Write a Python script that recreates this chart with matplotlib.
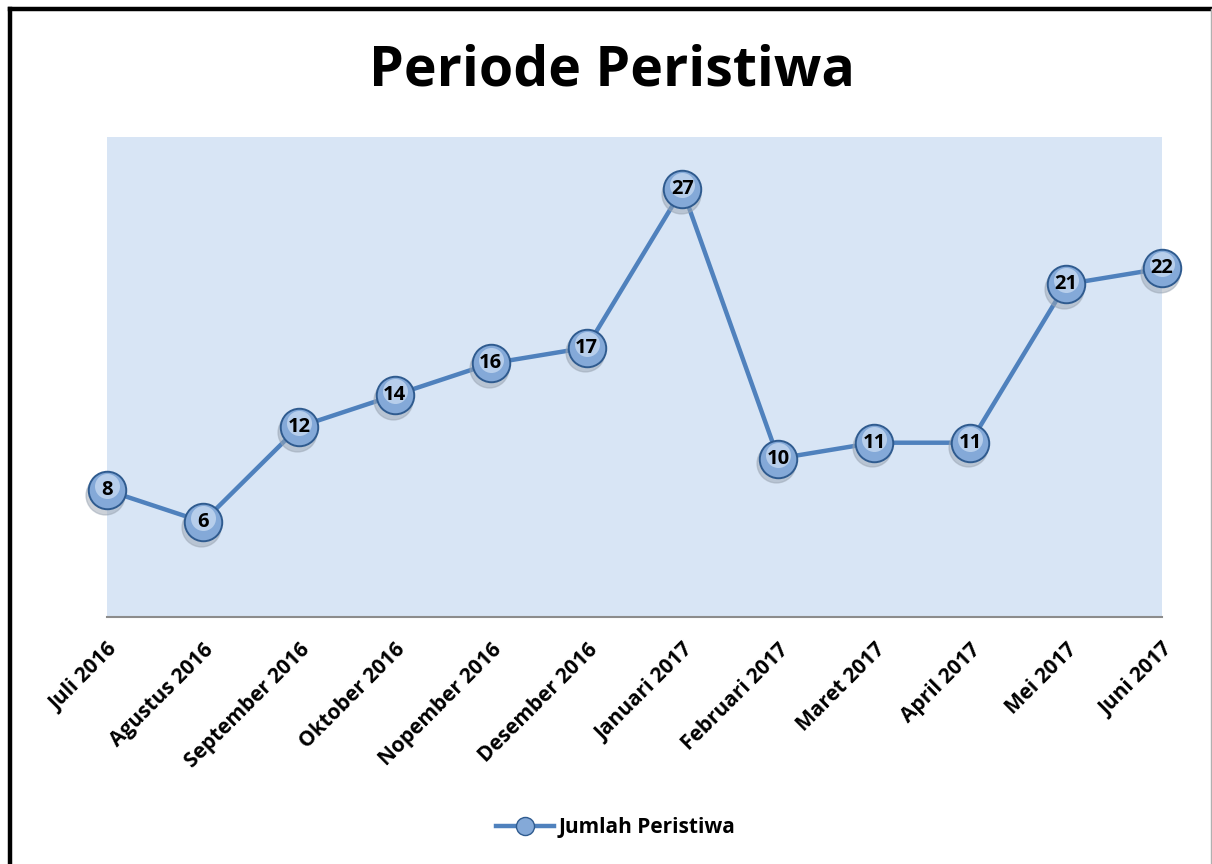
import matplotlib.pyplot as plt
from matplotlib.lines import Line2D

plt.rcParams['font.family'] = ['Open Sans', 'DejaVu Sans']

months = ["Juli 2016", "Agustus 2016", "September 2016", "Oktober 2016",
          "Nopember 2016", "Desember 2016", "Januari 2017", "Februari 2017",
          "Maret 2017", "April 2017", "Mei 2017", "Juni 2017"]
jumlah = [8, 6, 12, 14, 16, 17, 27, 10, 11, 11, 21, 22]

LINE = '#4f81bd'
FACE = '#84a9d8'
EDGE = '#2f5b8f'

fig = plt.figure(figsize=(12.12, 8.64), dpi=100)
ax = fig.add_axes([0.0883, 0.2859, 0.8704, 0.5556])
ax.set_facecolor('#d8e5f5')

x = list(range(len(months)))
ax.plot(x, jumlah, color=LINE, linewidth=3.2, zorder=3, clip_on=False)
# shadow, ball, and a soft highlight to mimic the glossy markers
ax.plot([i - 0.02 for i in x], [v - 0.3 for v in jumlah], 'o', ms=28,
        color='#9aa5b3', alpha=0.5, zorder=4, clip_on=False)
ax.plot(x, jumlah, 'o', ms=27, markerfacecolor=FACE, markeredgecolor=EDGE,
        markeredgewidth=1.4, zorder=5, clip_on=False)
ax.plot(x, [v + 0.25 for v in jumlah], 'o', ms=18, markerfacecolor='#c4d8f0',
        markeredgewidth=0, alpha=0.8, zorder=6, clip_on=False)
for i, v in zip(x, jumlah):
    ax.text(i, v, str(v), ha='center', va='center', fontsize=14.5,
            fontweight='bold', color='black', zorder=7)

ax.set_xlim(0, len(months) - 1)
ax.set_ylim(0, 30.3)
ax.set_yticks([])
ax.set_xticks(x)
ax.set_xticklabels(months, rotation=45, ha='right', rotation_mode='anchor',
                   fontsize=15, fontweight='bold')
ax.tick_params(axis='x', length=0, pad=16)
for s in ['top', 'left', 'right']:
    ax.spines[s].set_visible(False)
ax.spines['bottom'].set_color('#8c8c8c')
ax.spines['bottom'].set_linewidth(1.5)

fig.text(0.505, 0.918, "Periode Peristiwa", ha='center', va='center',
         fontsize=40, fontweight='bold')

handle = Line2D([], [], color=LINE, linewidth=3.2, marker='o', ms=13,
                markerfacecolor=FACE, markeredgecolor=EDGE)
fig.legend([handle], ["Jumlah Peristiwa"], loc='center', bbox_to_anchor=(0.508, 0.042),
           frameon=False, prop={'weight': 'bold', 'size': 15}, handlelength=2.8,
           handletextpad=0.2)

# frame around the picture
fig.add_artist(Line2D([0.0083, 0.0083], [0, 0.9896], color='black', lw=3.2,
                      transform=fig.transFigure))
fig.add_artist(Line2D([0.0083, 1], [0.9896, 0.9896], color='black', lw=3.2,
                      transform=fig.transFigure))
fig.add_artist(Line2D([0.9992, 0.9992], [0, 0.9896], color='#b0b0b0', lw=1,
                      transform=fig.transFigure))

fig.savefig('out.png', dpi=100)
